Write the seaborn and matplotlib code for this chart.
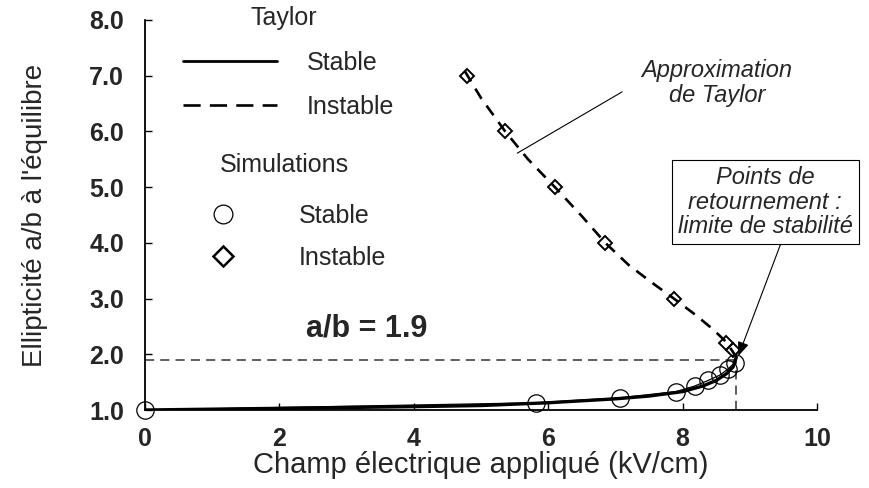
import matplotlib
matplotlib.use("Agg")
import matplotlib.pyplot as plt
from matplotlib.lines import Line2D
import seaborn as sns
import pandas as pd

# ---- data ----
taylor_stable_x = [0.0, 2.0, 4.0, 5.0, 6.0, 7.0, 7.5, 8.0, 8.3, 8.5, 8.65, 8.75, 8.8]
taylor_stable_y = [1.0, 1.03, 1.06, 1.08, 1.13, 1.2, 1.25, 1.33, 1.43, 1.53, 1.65, 1.77, 1.95]
taylor_instable_x = [4.76, 5.0, 5.36, 5.7, 6.1, 6.5, 6.85, 7.2, 7.55, 7.87, 8.2, 8.45, 8.65, 8.8]
taylor_instable_y = [7.08, 6.6, 6.0, 5.5, 5.0, 4.48, 4.0, 3.6, 3.28, 3.0, 2.7, 2.45, 2.22, 1.95]
sim_stable_x = [0.0, 5.82, 7.07, 7.9, 8.18, 8.38, 8.56, 8.68, 8.78]
sim_stable_y = [1.0, 1.13, 1.22, 1.33, 1.43, 1.53, 1.63, 1.74, 1.85]
sim_instable_x = [4.79, 5.36, 6.1, 6.84, 7.87, 8.65, 8.75]
sim_instable_y = [7.0, 6.0, 5.0, 4.0, 3.0, 2.2, 2.08]
limit_ratio = 1.9
limit_field = 8.8
x_ticks = [0, 2, 4, 6, 8, 10]
y_ticks = [1, 2, 3, 4, 5, 6, 7, 8]
y_ticklabels = ["1.0", "2.0", "3.0", "4.0", "5.0", "6.0", "7.0", "8.0"]

sns.set_style("ticks")
plt.rcParams["font.family"] = ["Liberation Sans", "DejaVu Sans"]

fig = plt.figure(figsize=(8.69, 4.88), dpi=100)
ax = fig.add_axes([145/869, 1-410/488, (817-145)/869, (410-20)/488])

df_ts = pd.DataFrame({"x": taylor_stable_x, "y": taylor_stable_y})
df_ti = pd.DataFrame({"x": taylor_instable_x, "y": taylor_instable_y})
df_ss = pd.DataFrame({"x": sim_stable_x, "y": sim_stable_y})
df_si = pd.DataFrame({"x": sim_instable_x, "y": sim_instable_y})

# helper dashed lines
ax.plot([0, limit_field], [limit_ratio, limit_ratio], color="#333333", lw=1.1,
        dashes=(6, 4), zorder=1)
ax.plot([limit_field, limit_field], [1.0, limit_ratio], color="#333333", lw=1.1,
        dashes=(6, 4), zorder=1)

sns.lineplot(data=df_ts, x="x", y="y", ax=ax, color="black", lw=2.4, sort=False,
             estimator=None, zorder=3)
sns.lineplot(data=df_ss, x="x", y="y", ax=ax, color="black", lw=0.9, sort=False,
             estimator=None, zorder=3)
sns.lineplot(data=df_ti, x="x", y="y", ax=ax, color="black", lw=1.9, sort=False,
             estimator=None, zorder=3)
ax.lines[-1].set_dashes((4.5, 3.2))

ax.plot(df_ss["x"], df_ss["y"], ls="none", marker="o", ms=12.5, mfc="none",
        mec="black", mew=0.9, clip_on=False, zorder=4)
ax.plot(df_si["x"], df_si["y"], ls="none", marker="D", ms=7.5, mfc="none",
        mec="black", mew=1.4, clip_on=False, zorder=4)

ax.set_xlim(0, 10)
ax.set_ylim(1, 8)
ax.set_xticks(x_ticks)
ax.set_yticks(y_ticks)
ax.set_yticklabels(y_ticklabels)
for t in ax.get_xticklabels() + ax.get_yticklabels():
    t.set_fontweight("bold")
    t.set_fontsize(18)
ax.tick_params(axis="both", direction="in", length=5, width=1, color="black")
ax.tick_params(axis="y", pad=15)
ax.tick_params(axis="x", pad=12)
sns.despine(ax=ax)
for s in ["left", "bottom"]:
    ax.spines[s].set_linewidth(1.3)
    ax.spines[s].set_color("black")

ax.set_xlabel("Champ électrique appliqué (kV/cm)", fontsize=21, labelpad=0)
ax.set_ylabel("Ellipticité a/b à l'équilibre", fontsize=20, labelpad=30)

# annotations
ax.text(3.3, 2.47, "a/b = 1.9", fontsize=22, fontweight="bold", ha="center",
        va="center")
ax.text(8.51, 6.87, "Approximation\nde Taylor", fontsize=17, style="italic",
        ha="center", va="center", linespacing=1.1)
ax.annotate("", xy=(5.54, 5.61), xytext=(7.1, 6.71),
            arrowprops=dict(arrowstyle="-", color="black", lw=0.8,
                            shrinkA=0, shrinkB=0))
ax.annotate("Points de\nretournement :\nlimite de stabilité", xy=(8.83, 1.97),
            xytext=(9.23, 4.73), fontsize=17, style="italic", ha="center",
            va="center", linespacing=1.1, annotation_clip=False,
            bbox=dict(boxstyle="square,pad=0.25", fc="white", ec="black", lw=0.8),
            arrowprops=dict(arrowstyle="-|>,head_length=0.5,head_width=0.2",
                            color="black", lw=0.8, relpos=(0.6, 0.0),
                            shrinkA=0, shrinkB=0))

# legend
fs = 18
fsp = fs * 100 / 72
fig.text(284/869, 1-18/488, "Taylor", fontsize=fs, ha="center", va="center")
fig.text(284/869, 1-165/488, "Simulations", fontsize=fs, ha="center", va="center")
h1 = [Line2D([], [], color="black", lw=2.0),
      Line2D([], [], color="black", lw=1.9, dashes=(6.5, 3.5))]
leg1 = ax.legend(h1, ["Stable", "Instable"], loc="center left",
                 bbox_to_anchor=(183/869, 1-85/488), bbox_transform=fig.transFigure,
                 frameon=False, fontsize=fs, handlelength=94/fsp,
                 handletextpad=30/fsp, labelspacing=(45-fsp)/fsp, borderpad=0,
                 borderaxespad=0)
ax.add_artist(leg1)
h2 = [Line2D([], [], ls="none", marker="o", ms=13.5, mfc="none", mec="black", mew=0.9),
      Line2D([], [], ls="none", marker="D", ms=10, mfc="none", mec="black", mew=1.8)]
leg2 = ax.legend(h2, ["Stable", "Instable"], loc="center left",
                 bbox_to_anchor=(183/869, 1-237/488), bbox_transform=fig.transFigure,
                 frameon=False, fontsize=fs, handlelength=80/fsp,
                 handletextpad=36/fsp, labelspacing=(43-fsp)/fsp, borderpad=0,
                 borderaxespad=0)

fig.savefig("out.png", dpi=100)
